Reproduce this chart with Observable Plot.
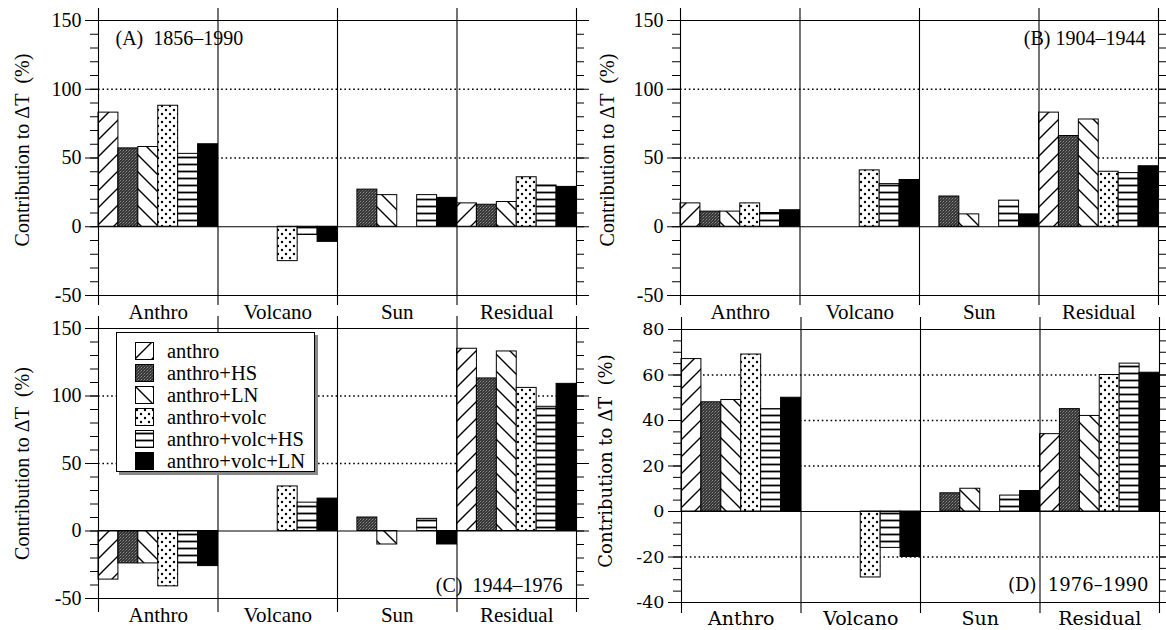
<!DOCTYPE html>
<html><head><meta charset="utf-8">
<script src="https://cdn.jsdelivr.net/npm/d3@7"></script>
<script src="https://cdn.jsdelivr.net/npm/@observablehq/plot@0.6"></script>
<style>
body{margin:0;background:#fff;}
#chart{position:relative;width:1166px;height:630px;overflow:hidden;background:#fff;color:#000}
.panel{position:absolute}
#legend{position:absolute;left:116px;top:332px;width:199px;height:140px;box-sizing:border-box;border:1.3px solid #000;background:#fff;box-shadow:3px 3px 0 #888;font-family:"Liberation Serif";font-size:20.5px;z-index:5}
.li{position:absolute;left:18px;height:20px;display:flex;align-items:center;white-space:nowrap}
.li svg{display:block;margin-right:13px}
</style></head>
<body>
<svg width="0" height="0" style="position:absolute">
<defs>
<pattern id="pat-fwd" patternUnits="userSpaceOnUse" width="17" height="17">
 <rect width="17" height="17" fill="#fff"/>
 <path d="M-1,18 L18,-1 M-1,1 L1,-1 M16,18 L18,16" stroke="#000" stroke-width="1.4"/>
</pattern>
<pattern id="pat-back" patternUnits="userSpaceOnUse" width="17" height="17">
 <rect width="17" height="17" fill="#fff"/>
 <path d="M-1,-1 L18,18 M16,-1 L18,1 M-1,16 L1,18" stroke="#000" stroke-width="1.4"/>
</pattern>
<pattern id="pat-dots" patternUnits="userSpaceOnUse" width="8" height="8">
 <rect width="8" height="8" fill="#fff"/>
 <circle cx="2" cy="2" r="1.2" fill="#000"/>
 <circle cx="6" cy="6" r="1.2" fill="#000"/>
</pattern>
<pattern id="pat-hl" patternUnits="userSpaceOnUse" width="7" height="7">
 <rect width="7" height="7" fill="#fff"/>
 <rect y="2.6" width="7" height="1.8" fill="#000"/>
</pattern>
<pattern id="pat-gray" patternUnits="userSpaceOnUse" width="3" height="3">
 <rect width="3" height="3" fill="#363636"/>
 <rect x="0" y="0" width="1" height="1" fill="#909090"/>
 <rect x="2" y="1" width="1" height="1" fill="#6a6a6a"/>
 <rect x="1" y="2" width="1" height="1" fill="#585858"/>
</pattern>
</defs>
</svg>
<div id="chart"></div>
<script>
// ---- data ----
const categories = ["Anthro", "Volcano", "Sun", "Residual"];
const series = ["anthro", "anthro+HS", "anthro+LN", "anthro+volc", "anthro+volc+HS", "anthro+volc+LN"];

// (A) 1856–1990, values per series (same order as `series`)
const aAnthro   = [83, 57, 58, 88, 53, 60];
const aVolcano  = [0, 0, 0, -25, -6, -11];
const aSun      = [0, 27, 23, 0, 23, 21];
const aResidual = [17, 16, 18, 36, 30, 29];

// (B) 1904–1944
const bAnthro   = [17, 11, 11, 17, 10, 12];
const bVolcano  = [0, 0, 0, 41, 31, 34];
const bSun      = [0, 22, 9, 0, 19, 9];
const bResidual = [83, 66, 78, 40, 39, 44];

// (C) 1944–1976
const cAnthro   = [-36, -24, -24, -41, -24, -26];
const cVolcano  = [0, 0, 0, 33, 21, 24];
const cSun      = [0, 10, -10, 0, 9, -10];
const cResidual = [135, 113, 133, 106, 92, 109];

// (D) 1976–1990
const dAnthro   = [67, 48, 49, 69, 45, 50];
const dVolcano  = [0, 0, 0, -29, -16, -20];
const dSun      = [0, 8, 10, 0, 7, 9];
const dResidual = [34, 45, 42, 60, 65, 61];

const titles = ["(A)  1856–1990", "(B) 1904–1944", "(C)  1944–1976", "(D)  1976–1990"];
const yLabel = "Contribution to ΔT\u00a0 (%)";
const yDomainABC = [-50, 150];
const yDomainD = [-40, 80];
const majorABC = [-50, 0, 50, 100, 150];
const minorABC = d3.range(-50, 151, 10);
const gridABC = [50, 100];
const majorD = [-40, -20, 0, 20, 40, 60, 80];
const minorD = d3.range(-40, 81, 5);
const gridD = [-20, 20, 40, 60];

// ---- styling ----
const patternOf = {
  "anthro": "url(#pat-fwd)",
  "anthro+HS": "url(#pat-gray)",
  "anthro+LN": "url(#pat-back)",
  "anthro+volc": "url(#pat-dots)",
  "anthro+volc+HS": "url(#pat-hl)",
  "anthro+volc+LN": "#000"
};

function rowsOf(groups) {
  const rows = [];
  groups.forEach((vals, i) => vals.forEach((v, j) => {
    rows.push({cat: categories[i], ser: series[j], x1: i + j / series.length, x2: i + (j + 1) / series.length, v});
  }));
  return rows;
}

function panel(cfg) {
  const rows = rowsOf(cfg.groups).filter(d => d.v !== 0);
  const fontFamily = cfg.font;
  const plot = Plot.plot({
    width: cfg.width, height: cfg.height,
    marginLeft: cfg.ml, marginRight: cfg.mr, marginTop: cfg.mt, marginBottom: cfg.mb,
    style: {background: "transparent", overflow: "visible", fontFamily, fontSize: cfg.fs + "px", color: "#000"},
    x: {domain: [0, categories.length], axis: null},
    y: {domain: cfg.yDomain},
    color: {type: "identity"},
    marks: [
      Plot.ruleY(cfg.grid, {stroke: "#000", strokeWidth: 1.4, strokeDasharray: "1.6,2.8"}),
      Plot.rect(rows, {x1: "x1", x2: "x2", y1: 0, y2: "v", fill: d => patternOf[d.ser], stroke: "#000", strokeWidth: 1}),
      Plot.ruleY([0], {stroke: "#000", strokeWidth: 1.1}),
      Plot.ruleY(cfg.yDomain, {stroke: "#000", strokeWidth: 1.2}),
      Plot.ruleX(d3.range(0, categories.length + 1), {stroke: "#000", strokeWidth: 1.1, insetTop: -cfg.extTop, insetBottom: -cfg.extBottom}),
      Plot.axisY({anchor: "left", ticks: cfg.minor, tickSize: 8, tickFormat: () => "", label: null}),
      Plot.axisY({anchor: "left", ticks: cfg.major, tickSize: 13, tickPadding: 4, tickFormat: d => String(d), label: null, fontSize: cfg.fs}),
      Plot.axisY({anchor: "right", ticks: cfg.minor, tickSize: 7, tickFormat: () => "", label: null}),
      Plot.axisY({anchor: "right", ticks: cfg.major, tickSize: 12, tickFormat: () => "", label: null}),
      cfg.catLabels ? Plot.text(categories, {x: (d, i) => i + 0.5, frameAnchor: cfg.catLabels, dy: cfg.catDy, lineAnchor: "middle", fontSize: cfg.catFs}) : null,
      Plot.text([cfg.title], {frameAnchor: cfg.titleAnchor, dx: cfg.titleDx, dy: cfg.titleDy, lineAnchor: "middle", fontSize: cfg.titleFs}),
      Plot.text([yLabel], {frameAnchor: "left", textAnchor: "middle", rotate: -90, dx: cfg.yLabelDx, dy: cfg.yLabelDy, lineAnchor: "middle", fontSize: cfg.yFs})
    ]
  });
  plot.classList.add("panel");
  plot.style.left = cfg.left + "px";
  plot.style.top = cfg.top + "px";
  plot.style.maxWidth = "none";
  return plot;
}

const chart = document.getElementById("chart");
const serif = "'Liberation Serif', 'Times New Roman', serif";
const century = "'DejaVu Serif', serif";

chart.appendChild(panel({
  groups: [aAnthro, aVolcano, aSun, aResidual], title: titles[0],
  left: 0, top: 0, width: 583, height: 320, ml: 98, mr: 7, mt: 20, mb: 25,
  yDomain: yDomainABC, major: majorABC, minor: minorABC, grid: gridABC,
  font: serif, fs: 20, catFs: 21, titleFs: 20, yFs: 20,
  extTop: 12, extBottom: 10, catLabels: "bottom", catDy: 17,
  titleAnchor: "top-left", titleDx: 17, titleDy: 18, yLabelDx: -76, yLabelDy: -8
}));
chart.appendChild(panel({
  groups: [bAnthro, bVolcano, bSun, bResidual], title: titles[1],
  left: 583, top: 0, width: 583, height: 320, ml: 97, mr: 8, mt: 20, mb: 25,
  yDomain: yDomainABC, major: majorABC, minor: minorABC, grid: gridABC,
  font: serif, fs: 20, catFs: 21, titleFs: 20, yFs: 20,
  extTop: 12, extBottom: 10, catLabels: "bottom", catDy: 17,
  titleAnchor: "top-right", titleDx: -13, titleDy: 18, yLabelDx: -73, yLabelDy: -8
}));
chart.appendChild(panel({
  groups: [cAnthro, cVolcano, cSun, cResidual], title: titles[2],
  left: 0, top: 300, width: 583, height: 330, ml: 98, mr: 7, mt: 28, mb: 32,
  yDomain: yDomainABC, major: majorABC, minor: minorABC, grid: gridABC,
  font: serif, fs: 20, catFs: 21, titleFs: 20, yFs: 20,
  extTop: 12, extBottom: 14, catLabels: "bottom", catDy: 17,
  titleAnchor: "bottom-right", titleDx: -14, titleDy: -13, yLabelDx: -76, yLabelDy: 0
}));
chart.appendChild(panel({
  groups: [dAnthro, dVolcano, dSun, dResidual], title: titles[3],
  left: 583, top: 300, width: 583, height: 330, ml: 98, mr: 7, mt: 29, mb: 28,
  yDomain: yDomainD, major: majorD, minor: minorD, grid: gridD,
  font: century, fs: 17.5, catFs: 19, titleFs: 18, yFs: 18,
  extTop: 12, extBottom: 11, catLabels: "bottom", catDy: 16,
  titleAnchor: "bottom-right", titleDx: -11, titleDy: -17, yLabelDx: -75, yLabelDy: -5
}));

// legend (panel C)
const legend = document.createElement("div");
legend.id = "legend";
series.forEach((s, i) => {
  const item = document.createElement("div");
  item.className = "li";
  item.style.top = (8 + i * 22) + "px";
  item.innerHTML = `<svg width="19" height="18"><rect x="0.5" y="0.5" width="18" height="17" fill="${patternOf[s]}" stroke="#000" stroke-width="1"/></svg><span>${s}</span>`;
  legend.appendChild(item);
});
chart.appendChild(legend);
</script>
</body></html>
